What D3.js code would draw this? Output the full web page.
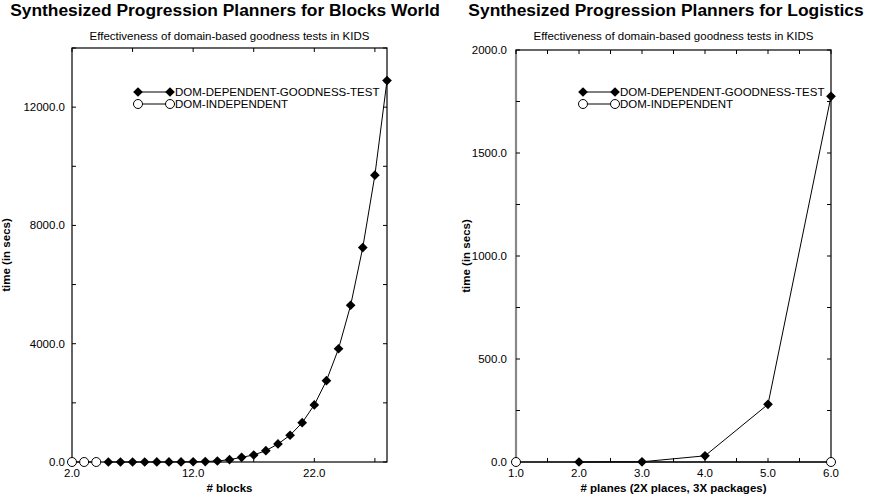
<!DOCTYPE html>
<html><head><meta charset="utf-8">
<script src="https://cdn.jsdelivr.net/npm/d3@7"></script>
<style>body{margin:0;background:#fff}svg{display:block;font-family:"Liberation Sans",Arial,sans-serif}</style>
</head><body><svg id="c" width="878" height="497"></svg>
<script>
// ---- data ----
const blocksDepX = [5,6,7,8,9,10,11,12,13,14,15,16,17,18,19,20,21,22,23,24,25,26,27,28];
const blocksDepY = [0.1,0.2,0.3,0.5,1,2,4,8,15,34,78,159,237,383,610,905,1330,1930,2750,3830,5300,7250,9700,12900];
const blocksIndX = [2,3,4];
const blocksIndY = [0,0,0];
const logDepX = [2,3,4,5,6];
const logDepY = [0,1,30,280,1775];
const logIndX = [1,6];
const logIndY = [0,0];
const blocksXTicks = [2,7,12,17,22,27];
const blocksXLabels = [2,12,22];
const blocksYTicks = [0,2000,4000,6000,8000,10000,12000,14000];
const blocksYLabels = [0,4000,8000,12000];
const logXTicks = [1,1.5,2,2.5,3,3.5,4,4.5,5,5.5,6];
const logXLabels = [1,2,3,4,5,6];
const logYTicks = [0,250,500,750,1000,1250,1500,1750,2000];
const logYLabels = [0,500,1000,1500,2000];
const seriesNames = ["DOM-DEPENDENT-GOODNESS-TEST","DOM-INDEPENDENT"];
const titles = ["Synthesized Progression Planners for Blocks World","Synthesized Progression Planners for Logistics"];
const subtitle = "Effectiveness of domain-based goodness tests in KIDS";
const xTitles = ["# blocks","# planes (2X places, 3X packages)"];
const yTitle = "time (in secs)";

const svg = d3.select("#c");
const diamond = d3.symbol().type(d3.symbolDiamond2 || d3.symbolDiamond).size(60);
const FS = 11.5;

function panel(cfg){
  const g = svg.append("g");
  const x = d3.scaleLinear().domain(cfg.xDom).range([cfg.left, cfg.right]);
  const y = d3.scaleLinear().domain(cfg.yDom).range([cfg.bottom, cfg.top]);
  // frame
  g.append("rect").attr("x",cfg.left).attr("y",cfg.top).attr("width",cfg.right-cfg.left).attr("height",cfg.bottom-cfg.top)
    .attr("fill","none").attr("stroke","#000").attr("stroke-width",1.2);
  if (cfg.grayLeft) {
    g.append("line").attr("x1",cfg.left).attr("x2",cfg.left).attr("y1",cfg.top+4).attr("y2",cfg.bottom)
      .attr("stroke","#888").attr("stroke-width",2.2);
  }
  // ticks (inward, all four sides)
  const tl = 4;
  cfg.xTicks.forEach(t=>{
    g.append("line").attr("x1",x(t)).attr("x2",x(t)).attr("y1",cfg.bottom).attr("y2",cfg.bottom-tl).attr("stroke","#000");
    g.append("line").attr("x1",x(t)).attr("x2",x(t)).attr("y1",cfg.top).attr("y2",cfg.top+tl).attr("stroke","#000");
  });
  cfg.yTicks.forEach(t=>{
    g.append("line").attr("y1",y(t)).attr("y2",y(t)).attr("x1",cfg.left).attr("x2",cfg.left+tl).attr("stroke","#000");
    g.append("line").attr("y1",y(t)).attr("y2",y(t)).attr("x1",cfg.right).attr("x2",cfg.right-tl).attr("stroke","#000");
  });
  cfg.xLabels.forEach(t=>{
    g.append("text").attr("x",x(t)).attr("y",cfg.bottom+15).attr("text-anchor","middle").attr("font-size",FS).text(t.toFixed(1));
  });
  cfg.yLabels.forEach(t=>{
    g.append("text").attr("x",cfg.left-cfg.yLabOff).attr("y",y(t)+4).attr("text-anchor","end").attr("font-size",FS).text(t.toFixed(1));
  });
  // titles
  g.append("text").attr("x",cfg.titleX).attr("y",16).attr("text-anchor","middle").attr("font-size",17.4).attr("font-weight","bold").text(cfg.title);
  g.append("text").attr("x",(cfg.left+cfg.right)/2).attr("y",40).attr("text-anchor","middle").attr("font-size",FS).text(subtitle);
  g.append("text").attr("x",(cfg.left+cfg.right)/2).attr("y",492).attr("text-anchor","middle").attr("font-size",FS).attr("font-weight","bold").text(cfg.xTitle);
  g.append("text").attr("transform",`translate(${cfg.yTitleX},${(cfg.top+cfg.bottom)/2}) rotate(-90)`).attr("text-anchor","middle").attr("font-size",FS).attr("font-weight","bold").text(yTitle);
  // series
  const line = d3.line().x(d=>x(d[0])).y(d=>y(d[1]));
  const dep = cfg.depX.map((v,i)=>[v,cfg.depY[i]]);
  const ind = cfg.indX.map((v,i)=>[v,cfg.indY[i]]);
  g.append("path").attr("d",line(ind)).attr("fill","none").attr("stroke","#000").attr("stroke-width",1);
  g.append("path").attr("d",line(dep)).attr("fill","none").attr("stroke","#000").attr("stroke-width",1);
  g.selectAll(".c").data(ind).join("circle").attr("cx",d=>x(d[0])).attr("cy",d=>y(d[1])).attr("r",4.5)
    .attr("fill","#fff").attr("stroke","#000").attr("stroke-width",1);
  g.selectAll(".d").data(dep).join("path").attr("d",diamond).attr("transform",d=>`translate(${x(d[0])},${y(d[1])})`).attr("fill","#000");
  // legend
  const lx1 = cfg.legX, lx2 = cfg.legX+32, ly = 92;
  g.append("line").attr("x1",lx1).attr("x2",lx2).attr("y1",ly).attr("y2",ly).attr("stroke","#000");
  [lx1,lx2].forEach(xx=>g.append("path").attr("d",diamond).attr("transform",`translate(${xx},${ly})`).attr("fill","#000"));
  g.append("text").attr("x",lx2+5).attr("y",ly+4).attr("font-size",FS).text(seriesNames[0]);
  g.append("line").attr("x1",lx1).attr("x2",lx2).attr("y1",ly+12).attr("y2",ly+12).attr("stroke","#000");
  [lx1,lx2].forEach(xx=>g.append("circle").attr("cx",xx).attr("cy",ly+12).attr("r",4.5).attr("fill","#fff").attr("stroke","#000"));
  g.append("text").attr("x",lx2+5).attr("y",ly+16).attr("font-size",FS).text(seriesNames[1]);
}

panel({left:72,right:387,top:48,bottom:462,xDom:[2,28],yDom:[0,14000],
  xTicks:blocksXTicks,xLabels:blocksXLabels,yTicks:blocksYTicks,yLabels:blocksYLabels,
  depX:blocksDepX,depY:blocksDepY,indX:blocksIndX,indY:blocksIndY,
  title:titles[0],titleX:225,xTitle:xTitles[0],yTitleX:10,legX:138,yLabOff:7,grayLeft:false});
panel({left:516,right:831,top:50,bottom:462,xDom:[1,6],yDom:[0,2000],
  xTicks:logXTicks,xLabels:logXLabels,yTicks:logYTicks,yLabels:logYLabels,
  depX:logDepX,depY:logDepY,indX:logIndX,indY:logIndY,
  title:titles[1],titleX:666,xTitle:xTitles[1],yTitleX:470,legX:583,yLabOff:9,grayLeft:true});
</script></body></html>
